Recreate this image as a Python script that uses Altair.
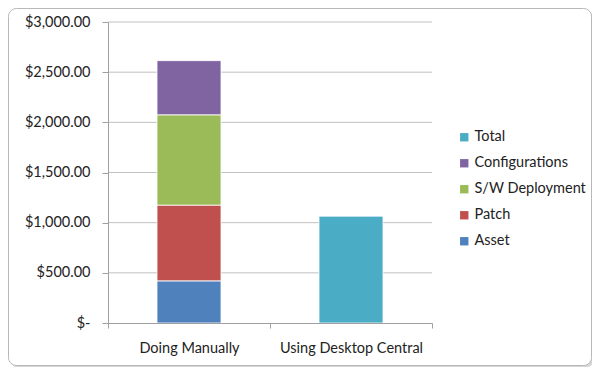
import altair as alt
import pandas as pd

categories = ["Doing Manually", "Doing Manually", "Doing Manually", "Doing Manually", "Using Desktop Central"]
series = ["Asset", "Patch", "S/W Deployment", "Configurations", "Total"]
values = [420, 755, 900, 540, 1065]
stack_order = [1, 2, 3, 4, 1]

legend_order = ["Total", "Configurations", "S/W Deployment", "Patch", "Asset"]
legend_colors = ["#4BACC6", "#8064A2", "#9BBB59", "#C0504D", "#4F81BD"]
y_ticks = [0, 500, 1000, 1500, 2000, 2500, 3000]

df = pd.DataFrame({"Category": categories, "Series": series, "Cost": values, "Order": stack_order})
grid_df = pd.DataFrame({"Cost": y_ticks[1:]})

FONT = "Lato"
FS = 14.5

frame_data = alt.Data(values=[{"k": 1}])
shadow = alt.Chart(frame_data).mark_rect(fill="#d6d6d6", cornerRadius=8).encode(
    x=alt.value(-97.5), x2=alt.value(485.5), y=alt.value(-11.5), y2=alt.value(345.5)
)
frame = alt.Chart(frame_data).mark_rect(fill="white", stroke="#b8b8b8", strokeWidth=1, cornerRadius=8).encode(
    x=alt.value(-99.5), x2=alt.value(483.5), y=alt.value(-13.5), y2=alt.value(343.5)
)

y_scale = alt.Scale(domain=[0, 3000], nice=False)

grid = alt.Chart(grid_df).mark_rule(color="#c0c0c0", strokeWidth=1).encode(
    y=alt.Y("Cost:Q", scale=y_scale, title=None)
)

bars = alt.Chart(df).mark_bar(size=64, stroke="white", strokeWidth=0.8).encode(
    x=alt.X("Category:N", title=None,
            scale=alt.Scale(paddingInner=0, paddingOuter=0),
            axis=alt.Axis(labelAngle=0, labelFont=FONT, labelFontSize=FS, labelColor="#222",
                          labelPadding=13, domainColor="#a0a0a0", tickColor="#a0a0a0",
                          tickBand="extent", tickSize=5, grid=False, zindex=1)),
    y=alt.Y("Cost:Q", title=None, stack="zero", scale=y_scale,
            axis=alt.Axis(values=y_ticks,
                          labelExpr="datum.value == 0 ? '$-    ' : format(datum.value, '$,.2f')",
                          labelFont=FONT, labelFontSize=FS, labelColor="#222", labelPadding=12,
                          grid=False, domainColor="#a0a0a0",
                          tickColor="#a0a0a0", tickSize=6, zindex=1)),
    color=alt.Color("Series:N", scale=alt.Scale(domain=legend_order, range=legend_colors),
                    sort=legend_order,
                    legend=alt.Legend(title=None, orient="none", legendX=349, legendY=108,
                                      symbolType="square", symbolSize=70, symbolStrokeWidth=0,
                                      labelFont=FONT, labelFontSize=FS, labelColor="#222",
                                      rowPadding=11, labelOffset=3)),
    order=alt.Order("Order:Q", sort="ascending"),
)

chart = alt.layer(shadow, frame, grid, bars).properties(
    width=324, height=301,
    autosize=alt.AutoSizeParams(type="none"),
    padding={"left": 100, "top": 14, "right": 160, "bottom": 44},
).configure_view(stroke=None).configure(background="white")

chart.save("out.html", embed_options={"renderer": "svg", "actions": False})
